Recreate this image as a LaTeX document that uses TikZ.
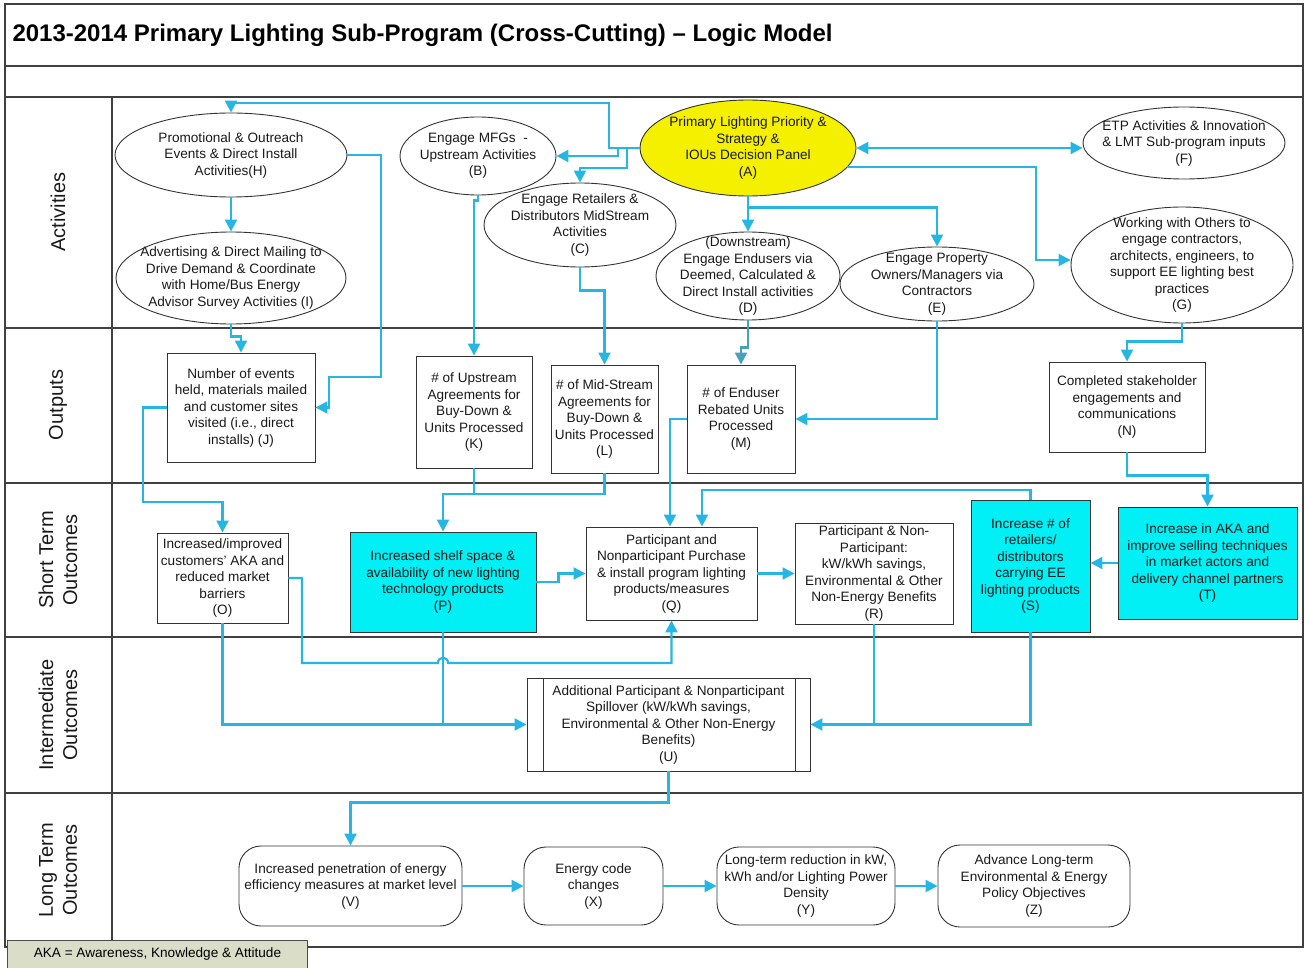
\documentclass[tikz,border=0pt]{standalone}
\usepackage{fontspec}
\setmainfont{Liberation Sans}
\usetikzlibrary{arrows.meta,shapes.geometric,calc}

\definecolor{wirecol}{RGB}{38,182,228}
\definecolor{wireteal}{RGB}{72,160,190}
\definecolor{cyanfill}{RGB}{0,240,245}
\definecolor{ovalyellow}{RGB}{245,240,0}
\definecolor{footfill}{RGB}{218,222,200}

\newcommand{\bodyfont}{\fontsize{13.6}{16.5}\selectfont}
\newcommand{\lanefont}{\fontsize{20}{24}\selectfont}
\newcommand{\headfont}{\fontsize{24}{28}\selectfont\bfseries}

% ellipse with its caption set as a separate centred node
\newcommand{\ovalnode}[7][]{%
  \node[oval, #1, minimum width=#5pt, minimum height=#6pt] (#2) at (#3,#4) {};
  \node[txt] (#2t) at (#2.center) {#7};}

\begin{document}
\begin{tikzpicture}[x=1pt,y=-1pt,
  lane/.style={draw=black!75, line width=1.5pt},
  oval/.style={ellipse, draw=black!80, line width=0.9pt, inner sep=0pt},
  txt/.style={align=center, font=\bodyfont, text=black!90, inner sep=0pt},
  box/.style={rectangle, draw=black!80, line width=0.9pt, align=center, font=\bodyfont, text=black!90, inner sep=2pt},
  hibox/.style={box, fill=cyanfill},
  pill/.style={box, rounded corners=22pt},
  wire/.style={draw=wirecol, line width=2.2pt},
  tip/.tip={Triangle[length=12pt,width=12pt]},
  conn/.style={wire, -tip},
  lanelabel/.style={rotate=90, font=\lanefont, align=center, text=black!90}
]
\useasboundingbox (0,0) rectangle (1305,968);

% frame and swimlanes
\draw[lane] (5,4) rectangle (1303,947);
\foreach \yy in {66,97,328,483,637,793} \draw[lane] (5,\yy) -- (1303,\yy);
\draw[lane] (112,97) -- (112,947);

\node[anchor=west, font=\headfont] (title) at (9,35) {2013-2014 Primary Lighting Sub-Program (Cross-Cutting) – Logic Model};

\node[lanelabel] (laneAct) at (58,212) {Activities};
\node[lanelabel] (laneOut) at (58,405) {Outputs};
\node[lanelabel] (laneST) at (58,560) {Short Term\\Outcomes};
\node[lanelabel] (laneIT) at (58,715) {Intermediate\\Outcomes};
\node[lanelabel] (laneLT) at (58,870) {Long Term\\Outcomes};

% activities
\ovalnode{H}{231}{155}{232}{84}{Promotional \& Outreach\\Events \& Direct Install\\Activities(H)}
\ovalnode{I}{231}{278}{230}{92}{Advertising \& Direct Mailing to\\Drive Demand \& Coordinate\\with Home/Bus Energy\\Advisor Survey Activities (I)}
\ovalnode{B}{478}{156}{156}{78}{Engage MFGs~ -\\Upstream Activities\\(B)}
\ovalnode{C}{580}{225}{192}{84}{Engage Retailers \&\\Distributors MidStream\\Activities\\(C)}
\ovalnode[fill=ovalyellow]{A}{748}{148}{216}{96}{Primary Lighting Priority \&\\Strategy \&\\IOUs Decision Panel\\(A)}
\ovalnode{F}{1184}{143}{202}{72}{ETP Activities \& Innovation\\\& LMT Sub-program inputs\\(F)}
\ovalnode{D}{748}{276}{184}{88}{(Downstream)\\Engage Endusers via\\Deemed, Calculated \&\\Direct Install activities\\(D)}
\ovalnode{E}{937}{284}{194}{74}{Engage Property\\Owners/Managers via\\Contractors\\(E)}
\ovalnode{G}{1182}{265}{222}{116}{Working with Others to\\engage contractors,\\architects, engineers, to\\support EE lighting best\\practices\\(G)}

% outputs
\node[box, minimum width=148pt, minimum height=109pt] (J) at (241,407.5) {Number of events\\held, materials mailed\\and customer sites\\visited (i.e., direct\\installs) (J)};
\node[box, minimum width=116pt, minimum height=112pt] (K) at (474,412) {\# of Upstream\\Agreements for\\Buy-Down \&\\Units Processed\\(K)};
\node[box, minimum width=107pt, minimum height=108pt] (L) at (604.5,419) {\# of Mid-Stream\\Agreements for\\Buy-Down \&\\Units Processed\\(L)};
\node[box, minimum width=108pt, minimum height=108pt] (M) at (741,419) {\# of Enduser\\Rebated Units\\Processed\\(M)};
\node[box, minimum width=156pt, minimum height=90pt] (N) at (1127,407) {Completed stakeholder\\engagements and\\communications\\(N)};

% short term outcomes
\node[box, minimum width=131pt, minimum height=90pt] (O) at (222.5,578) {Increased/improved\\customers’ AKA and\\reduced market\\barriers\\(O)};
\node[hibox, minimum width=186pt, minimum height=100pt] (P) at (443,582) {Increased shelf space \&\\availability of new lighting\\technology products\\(P)};
\node[box, minimum width=171pt, minimum height=93pt] (Q) at (671.5,573.5) {Participant and\\Nonparticipant Purchase\\\& install program lighting\\products/measures\\(Q)};
\node[box, minimum width=158pt, minimum height=101pt] (R) at (874,573.5) {Participant \& Non-\\Participant:\\kW/kWh savings,\\Environmental \& Other\\Non-Energy Benefits\\(R)};
\node[hibox, minimum width=119pt, minimum height=132pt] (S) at (1030.5,566) {Increase \# of\\retailers/\\distributors\\carrying EE\\lighting products\\(S)};
\node[hibox, minimum width=179pt, minimum height=112pt] (T) at (1207.5,563) {Increase in AKA and\\improve selling techniques\\in market actors and\\delivery channel partners\\(T)};

% intermediate outcome (process box with double sides)
\node[box, minimum width=283pt, minimum height=93pt] (U) at (668.5,724.5) {Additional Participant \& Nonparticipant\\Spillover (kW/kWh savings,\\Environmental \& Other Non-Energy\\Benefits)\\(U)};
\draw[black!80, line width=0.9pt] ($(U.north west)+(17,0)$) -- ($(U.south west)+(17,0)$);
\draw[black!80, line width=0.9pt] ($(U.north east)+(-15,0)$) -- ($(U.south east)+(-15,0)$);

% long term outcomes
\node[pill, minimum width=223pt, minimum height=80pt] (V) at (350.5,886) {Increased penetration of energy\\efficiency measures at market level\\(V)};
\node[pill, minimum width=139pt, minimum height=78pt] (X) at (593.5,886) {Energy code\\changes\\(X)};
\node[pill, minimum width=178pt, minimum height=78pt] (Y) at (806,886) {Long-term reduction in kW,\\kWh and/or Lighting Power\\Density\\(Y)};
\node[pill, minimum width=192pt, minimum height=82pt] (Z) at (1034,886) {Advance Long-term\\Environmental \& Energy\\Policy Objectives\\(Z)};

% key
\node[draw=black!70, line width=0.9pt, fill=footfill, minimum width=300pt, minimum height=28pt, font=\bodyfont, anchor=north west] (key) at (7,940) {AKA = Awareness, Knowledge \& Attitude};

% bend points of the connectors
\coordinate (topbus) at (609,103);
\coordinate (abend) at (618,156);
\coordinate (acbend) at (627,168);
\coordinate (agbend) at (1036,260);
\coordinate (hjbend) at (381,377);
\coordinate (hjstep) at (329,377);
\coordinate (jobend) at (143,502);
\coordinate (pjoin) at (443,494);
\coordinate (mqbend) at (670,419);
\coordinate (sqbend) at (702,490);
\coordinate (oqbend) at (302,663);
\coordinate (hop) at (443,663);

% connectors from the decision panel
\draw[conn] (A.west) -| (topbus) -| (H.north);
\draw[conn] (A.west) -| (abend) -- (B.east);
\draw[conn] (A.west) -| (acbend) -| (C.north);
\draw[wire, tip-tip] (A.east) -- (A.east -| F.west);
\draw[conn] (A.-11) -| (agbend) -- (agbend -| G.west);
\draw[conn] (A.south) -- (D.north);
\draw[conn] (A.south) -- ++(0,11) -| (E.north);

% activities to outputs
\draw[conn] (H.south) -- (I.north);
\draw[conn] (H.east) -| (hjbend) -- (hjstep) |- (J.east);
\draw[conn] (I.south) -- ++(0,12) -| (J.north);
\draw[conn] (B.south) -- ++(0,5) -| (K.north);
\draw[conn] (C.south) -- ++(0,23) -| (L.north);
\draw[conn, draw=wireteal] (D.south) -- ++(0,27) -| (M.north);
\draw[conn] (E.south) |- (M.east);
\draw[conn] (G.south) -- ++(0,18) -| (N.north);

% outputs to short term outcomes
\draw[conn] (J.west) -| (jobend) -| (O.north);
\draw[wire] (K.south) |- (pjoin);
\draw[conn] (L.south) |- (pjoin) -- (P.north);
\draw[conn] (M.west) -- (mqbend) -- (mqbend |- Q.north);
\draw[conn] (S.north) |- (sqbend) -- (sqbend |- Q.north);
\draw[conn] (P.east) -- ++(22,0) |- (Q.west);
\draw[conn] (Q.east) -- (R.west);
\draw[conn] (T.west) -- (T.west -| S.east);
\draw[conn] (N.south) -- ++(0,23) -| (T.north);

% short term to intermediate
\draw[conn] (O.east) -| (oqbend) -- ($(hop)+(-5,0)$) .. controls +(0,-7) and +(0,-7) .. ($(hop)+(5,0)$) -| (Q.south);
\draw[conn] (O.south) |- (U.west);
\draw[wire] (P.south) -- (P.south |- U.west);
\draw[conn] (R.south) |- (U.east);
\draw[wire] (S.south) |- (R.south |- U.east);

% long term chain
\draw[conn] (U.south) -- ++(0,31) -| (V.north);
\draw[conn] (V.east) -- (X.west);
\draw[conn] (X.east) -- (Y.west);
\draw[conn] (Y.east) -- (Z.west);
\end{tikzpicture}
\end{document}
